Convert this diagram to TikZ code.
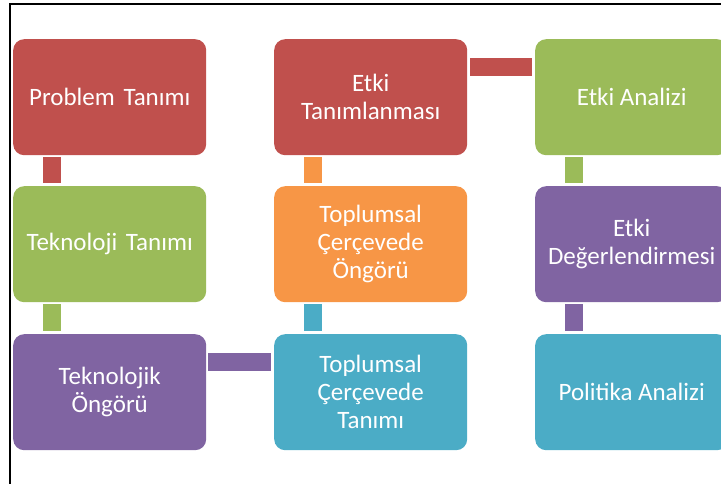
\documentclass[tikz,border=0pt]{standalone}
\usepackage{fontspec}
\setmainfont{Carlito}
\definecolor{cred}{HTML}{C0504D}
\definecolor{cgreen}{HTML}{9BBB59}
\definecolor{cpurple}{HTML}{8064A2}
\definecolor{corange}{HTML}{F79646}
\definecolor{cteal}{HTML}{4BACC6}
\begin{document}
\begin{tikzpicture}[x=1pt,y=-1pt,
  stagebox/.style={fill=#1, rounded corners=11pt, minimum width=193pt, minimum height=116pt,
    inner sep=0pt, anchor=north west, align=center, text=white,
    font=\fontsize{25}{28}\selectfont},
  link/.style={draw=#1, line width=18pt, line cap=butt}]
\useasboundingbox (0,0) rectangle (721,484);
% frame
\draw[line width=1.3pt] (10,484) -- (10,4) -- (721,4);

% column 1
\node[stagebox=cred]    (p1) at (13,39)  {Problem\hspace{0.35em}Tanımı};
\node[stagebox=cgreen]  (p2) at (13,186) {Teknoloji\hspace{0.35em}Tanımı};
\node[stagebox=cpurple] (p3) at (13,334) {Teknolojik\\Öngörü};
% column 2
\node[stagebox=cred]    (q1) at (274,39)  {Etki\\Tanımlanması};
\node[stagebox=corange] (q2) at (274,186) {Toplumsal\\Çerçevede\\Öngörü};
\node[stagebox=cteal]   (q3) at (274,334) {Toplumsal\\Çerçevede\\Tanımı};
% column 3
\node[stagebox=cgreen]  (r1) at (535,39)  {Etki Analizi};
\node[stagebox=cpurple] (r2) at (535,186) {Etki\\Değerlendirmesi};
\node[stagebox=cteal]   (r3) at (535,334) {Politika Analizi};

% vertical links
\draw[link=cred]    ([xshift=38.5pt,yshift=-2pt]p1.south west) -- ([xshift=38.5pt,yshift=3pt]p2.north west);
\draw[link=cgreen]  ([xshift=38.5pt,yshift=-2pt]p2.south west) -- ([xshift=38.5pt,yshift=3pt]p3.north west);
\draw[link=cteal]   ([xshift=38.5pt,yshift=3pt]q3.north west) -- ([xshift=38.5pt,yshift=-2pt]q2.south west);
\draw[link=corange] ([xshift=38.5pt,yshift=3pt]q2.north west) -- ([xshift=38.5pt,yshift=-2pt]q1.south west);
\draw[link=cgreen]  ([xshift=38.5pt,yshift=-2pt]r1.south west) -- ([xshift=38.5pt,yshift=3pt]r2.north west);
\draw[link=cpurple] ([xshift=38.5pt,yshift=-2pt]r2.south west) -- ([xshift=38.5pt,yshift=3pt]r3.north west);
% horizontal links
\draw[link=cpurple] ([xshift=2pt,yshift=-28pt]p3.north east) -- ([xshift=-3pt,yshift=-28pt]q3.north west);
\draw[link=cred]    ([xshift=3pt,yshift=-28pt]q1.north east) -- ([xshift=-3pt,yshift=-28pt]r1.north west);
\end{tikzpicture}
\end{document}
